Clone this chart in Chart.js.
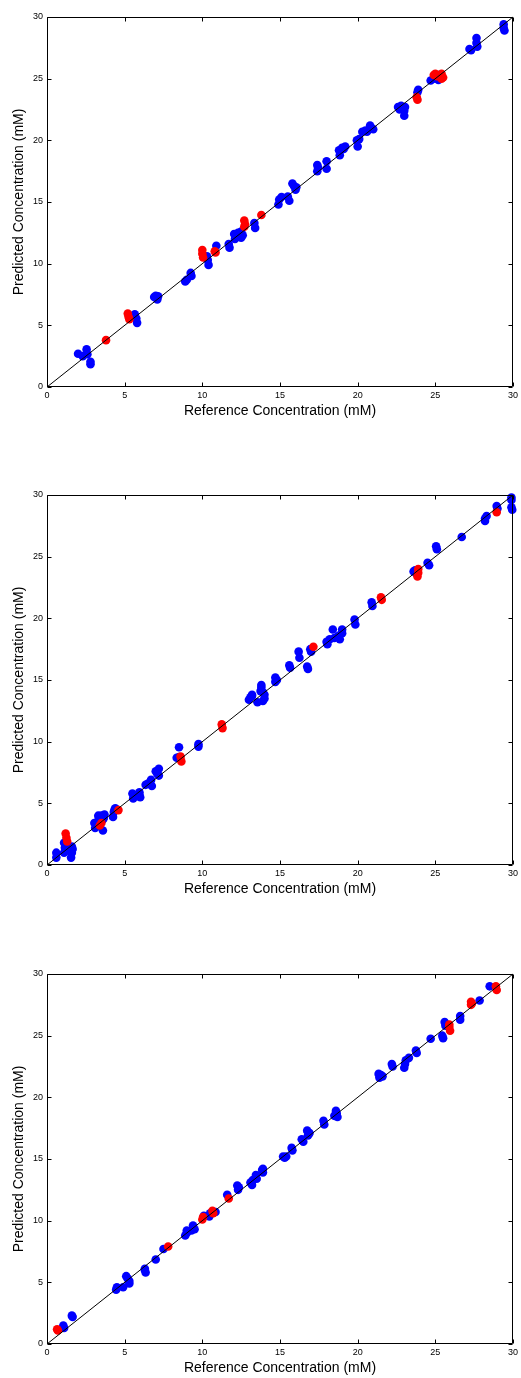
<!DOCTYPE html>
<html>
<head>
<meta charset="utf-8">
<script src="https://cdn.jsdelivr.net/npm/chart.js@4/dist/chart.umd.min.js"></script>
<style>
html,body{margin:0;padding:0;background:#fff;width:521px;height:1378px;overflow:hidden;}
.wrap{position:absolute;left:0;width:521px;height:430px;}
</style>
</head>
<body>
<div class="wrap" style="top:0px"><canvas id="c1" width="521" height="430"></canvas></div>
<div class="wrap" style="top:478px"><canvas id="c2" width="521" height="430"></canvas></div>
<div class="wrap" style="top:957px"><canvas id="c3" width="521" height="430"></canvas></div>
<script>
// ---- data ----
const tickValues = [0, 5, 10, 15, 20, 25, 30];
const axisMin = 0, axisMax = 30;
const xTitle = 'Reference Concentration (mM)';
const yTitle = 'Predicted Concentration (mM)';
const identityLine = [[0, 0], [30, 30]];

const p1Blue = [[2.0,2.7],[2.3,2.5],[2.55,3.05],[2.6,2.65],[2.8,2.05],[2.8,1.85],
[5.65,5.9],[5.75,5.55],[5.8,5.2],
[6.9,7.3],[7.0,7.4],[7.1,7.1],[7.15,7.35],
[8.9,8.55],[9.0,8.7],[9.25,9.25],[9.3,9.0],
[10.4,9.9],[10.35,10.3],[10.3,10.6],[10.9,11.45],
[11.7,11.6],[11.75,11.3],[12.05,12.4],[12.1,12.0],[12.3,12.5],[12.5,12.6],[12.6,12.3],[12.5,12.1],
[13.35,13.3],[13.4,12.9],
[14.95,15.2],[14.9,14.8],[15.1,15.4],[15.5,15.45],[15.6,15.1],
[15.8,16.5],[15.9,16.3],[16.0,16.0],[16.05,16.2],
[17.4,18.0],[17.4,17.5],[17.45,17.8],[18.0,18.3],[18.0,17.7],
[18.8,19.2],[18.85,18.8],[19.0,19.4],[19.2,19.5],[19.1,19.3],
[19.95,20.0],[20.0,19.5],[20.1,20.1],[20.3,20.7],[20.5,20.8],[20.6,20.7],
[20.8,21.2],[20.9,21.0],[21.0,20.9],
[22.6,22.7],[22.7,22.5],[22.8,22.8],[22.9,22.6],[23.0,22.4],[23.0,22.0],[23.05,22.7],
[23.9,24.1],[23.85,23.9],
[24.7,24.85],[24.9,25.0],[25.1,25.2],[25.2,25.3],[25.2,24.9],
[27.2,27.4],[27.3,27.3],[27.65,28.3],[27.65,27.9],[27.7,27.6],
[29.4,29.4],[29.4,29.1],[29.45,28.9]];
const p1Red = [[3.8,3.8],[5.2,5.95],[5.25,5.7],[5.3,5.5],
[10.0,11.1],[10.0,10.8],[10.05,10.5],[10.8,11.0],[10.85,10.9],
[12.7,13.5],[12.75,13.2],[12.7,13.0],[13.8,13.95],
[23.8,23.5],[23.85,23.3],
[24.9,25.3],[25.0,25.4],[25.1,25.2],[25.4,25.4],[25.5,25.1],[25.4,25.0]];

const p2Blue = [[0.6,1.0],[0.6,0.6],[1.1,1.8],[1.15,1.4],[1.1,1.0],[1.3,1.2],[1.6,1.5],[1.6,1.0],[1.55,0.6],[1.65,1.3],
[3.05,3.4],[3.1,3.0],[3.2,3.3],[3.3,4.0],[3.4,3.8],[3.5,4.0],[3.3,3.6],[3.6,3.7],[3.6,2.8],[3.7,4.1],[3.65,3.8],
[4.25,3.9],[4.3,4.3],[4.35,4.5],[4.4,4.6],
[5.5,5.8],[5.55,5.4],[5.6,5.6],[5.95,5.9],[6.0,5.5],[5.95,5.7],
[6.35,6.5],[6.5,6.6],[6.7,6.9],[6.75,6.4],
[7.0,7.6],[7.2,7.8],[7.1,7.4],[7.2,7.25],
[8.35,8.7],[8.5,8.75],[8.5,9.55],[9.75,9.8],[9.75,9.6],
[13.0,13.4],[13.1,13.6],[13.2,13.8],[13.2,13.7],[13.55,13.2],[13.8,14.4],[13.8,14.6],[13.75,14.1],[13.9,14.0],[14.0,13.8],[14.0,13.5],[13.9,13.3],
[14.7,15.2],[14.7,14.85],[14.8,15.0],
[15.6,16.2],[15.65,16.0],[16.2,17.3],[16.25,16.8],[16.75,16.1],[16.8,15.9],[16.95,17.5],[17.0,17.3],
[18.0,18.1],[18.05,17.9],[18.2,18.3],[18.4,19.1],[18.5,18.4],[18.7,18.5],[18.8,18.6],[18.85,18.3],[19.0,18.8],[19.0,19.1],
[19.8,19.9],[19.85,19.5],
[20.9,21.3],[20.95,21.0],
[23.6,23.8],[23.7,23.9],[23.8,23.6],
[24.5,24.5],[24.6,24.3],[25.05,25.85],[25.1,25.6],
[26.7,26.6],[28.2,28.1],[28.3,28.3],[28.2,27.9],
[28.95,29.1],[29.0,28.9],[29.9,29.6],[29.9,29.0],[29.95,28.8],[29.9,29.8]];
const p2Red = [[1.2,2.55],[1.25,2.2],[1.3,1.9],[3.4,3.2],[3.5,3.4],[4.6,4.45],
[8.65,8.4],[8.6,8.8],[11.25,11.4],[11.3,11.1],[17.15,17.7],
[21.5,21.7],[21.55,21.5],[23.9,24.0],[23.85,23.4],[23.9,23.7],[28.95,28.6]];

const p3Blue = [[1.05,1.5],[1.1,1.3],[1.6,2.3],[1.65,2.2],
[4.5,4.6],[4.45,4.4],[4.9,4.6],[5.1,5.5],[5.2,5.3],[5.3,5.1],[5.3,4.9],
[6.3,6.1],[6.35,5.8],[6.3,6.0],[7.0,6.85],[7.5,7.7],
[8.9,8.8],[9.0,9.0],[9.0,9.2],[9.3,9.2],[9.4,9.6],[9.5,9.3],
[10.1,10.4],[10.45,10.35],[10.5,10.6],[10.85,10.7],
[11.6,12.1],[12.25,12.85],[12.3,12.5],[12.35,12.7],
[13.1,13.1],[13.2,12.9],[13.25,13.3],[13.45,13.7],[13.5,13.4],[13.9,14.2],[13.9,13.9],[13.85,14.1],
[15.2,15.2],[15.3,15.1],[15.4,15.2],[15.75,15.9],[15.8,15.7],
[16.4,16.6],[16.5,16.4],[16.75,17.3],[16.8,16.9],[16.9,17.1],
[17.8,18.1],[17.85,17.8],[18.6,18.9],[18.5,18.5],[18.7,18.4],[18.65,18.7],
[21.35,21.9],[21.4,21.6],[21.6,21.7],[21.5,21.8],
[22.2,22.7],[22.25,22.5],[23.05,22.7],[23.0,22.4],[23.1,23.0],[23.3,23.2],
[23.75,23.8],[23.8,23.6],[24.7,24.75],[25.45,25.0],[25.5,24.8],[25.6,26.1],[25.65,25.8],
[26.6,26.6],[26.6,26.3],[27.85,27.85],[28.5,29.0]];
const p3Red = [[0.65,1.2],[0.7,1.1],[7.8,7.9],[10.0,10.1],[10.05,10.3],[10.65,10.8],[10.7,10.6],[11.7,11.8],
[25.9,25.7],[25.95,25.4],[25.9,25.9],[27.3,27.75],[27.3,27.5],[27.35,27.6],[28.9,29.0],[28.95,28.7]];

// ---- rendering ----
const FONT = '"Liberation Sans", Arial, Helvetica, sans-serif';
const toXY = arr => arr.map(p => ({x: p[0], y: p[1]}));

const boxPlugin = {
  id: 'matlabBox',
  afterDatasetsDraw(chart) {
    const {ctx, chartArea: a, scales} = chart;
    const xs = scales.x, ys = scales.y;
    const L = Math.round(a.left) + 0.5, R = Math.round(a.right) - 0.5;
    const T = Math.round(a.top) + 0.5, B = Math.round(a.bottom) - 0.5;
    const tl = 4;
    ctx.save();
    ctx.strokeStyle = '#000';
    ctx.lineWidth = 1;
    ctx.beginPath();
    ctx.rect(L, T, R - L, B - T);
    tickValues.forEach(v => {
      const px = Math.round(xs.getPixelForValue(v)) + 0.5;
      ctx.moveTo(px, B); ctx.lineTo(px, B - tl);
      ctx.moveTo(px, T); ctx.lineTo(px, T + tl);
      const py = Math.round(ys.getPixelForValue(v)) + 0.5;
      ctx.moveTo(L, py); ctx.lineTo(L + tl, py);
      ctx.moveTo(R, py); ctx.lineTo(R - tl, py);
    });
    ctx.stroke();
    ctx.restore();
  }
};

function makeChart(id, blue, red) {
  new Chart(document.getElementById(id), {
    type: 'scatter',
    data: {
      datasets: [
        {type: 'line', data: toXY(identityLine), borderColor: '#000', borderWidth: 1,
         pointRadius: 0, fill: false, order: 0, clip: false},
        {data: toXY(red), backgroundColor: '#ff0000', borderColor: '#ff0000', borderWidth: 0,
         pointRadius: 4.3, order: 1, clip: false},
        {data: toXY(blue), backgroundColor: '#0000ff', borderColor: '#0000ff', borderWidth: 0,
         pointRadius: 4.3, order: 2, clip: false}
      ]
    },
    options: {
      responsive: false,
      animation: false,
      devicePixelRatio: 1,
      layout: {padding: {top: 17, right: 6, left: 0, bottom: 0}},
      plugins: {legend: {display: false}, tooltip: {enabled: false}},
      elements: {point: {hoverRadius: 4.3}},
      scales: {
        x: {
          type: 'linear', min: axisMin, max: axisMax,
          afterBuildTicks: s => { s.ticks = tickValues.map(v => ({value: v})); },
          afterFit: s => { s.height = 43; },
          grid: {display: false, drawTicks: false},
          border: {display: false},
          ticks: {padding: 3, color: '#000', font: {family: FONT, size: 9}, maxRotation: 0},
          title: {display: true, text: xTitle, color: '#000', font: {family: FONT, size: 14},
                  padding: {top: 0, bottom: 10}}
        },
        y: {
          type: 'linear', min: axisMin, max: axisMax,
          afterBuildTicks: s => { s.ticks = tickValues.map(v => ({value: v})); },
          afterFit: s => { s.width = 47; },
          grid: {display: false, drawTicks: false},
          border: {display: false},
          ticks: {padding: 4, color: '#000', font: {family: FONT, size: 9}},
          title: {display: true, text: yTitle, color: '#000', font: {family: FONT, size: 14},
                  padding: {top: 11, bottom: 0}}
        }
      }
    },
    plugins: [boxPlugin]
  });
}

makeChart('c1', p1Blue, p1Red);
makeChart('c2', p2Blue, p2Red);
makeChart('c3', p3Blue, p3Red);
</script>
</body>
</html>
